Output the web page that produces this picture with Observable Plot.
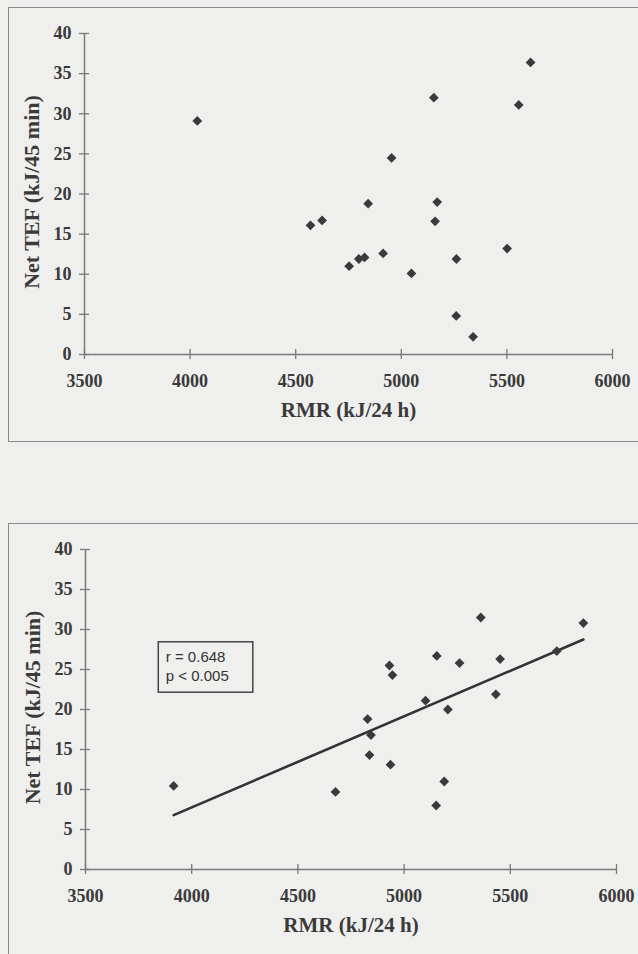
<!DOCTYPE html>
<html>
<head>
<meta charset="utf-8">
<script src="https://cdn.jsdelivr.net/npm/d3@7"></script>
<script src="https://cdn.jsdelivr.net/npm/@observablehq/plot@0.6"></script>
<style>
  body { margin: 0; background: #efefed; }
  #wrap { position: relative; width: 638px; height: 954px; background: #efefed; overflow: hidden; }
  .frame { position: absolute; border: 1.5px solid #8a8a8a; }
  #f1 { left: 8px; top: 7px; width: 700px; height: 433px; }
  #f2 { left: 8px; top: 523px; width: 700px; height: 520px; }
  .chart { position: absolute; left: 0; }
  #c1 { top: 0; }
  #c2 { top: 500px; }
</style>
</head>
<body>
<div id="wrap">
  <div class="frame" id="f1"></div>
  <div class="frame" id="f2"></div>
  <div class="chart" id="c1"></div>
  <div class="chart" id="c2"></div>
</div>
<script>
// ---- data ----
const xTicks = [3500, 4000, 4500, 5000, 5500, 6000];
const yTicks = [0, 5, 10, 15, 20, 25, 30, 35, 40];
const xTitle = "RMR (kJ/24 h)";
const yTitle = "Net TEF (kJ/45 min)";

// top panel (no correlation)
const rmrA = [4034, 4570, 4625, 4753, 4799, 4826, 4843, 4914, 4954, 5048, 5154, 5160, 5170, 5261, 5260, 5340, 5501, 5556, 5612];
const tefA = [29.1, 16.1, 16.7, 11.0, 11.9, 12.1, 18.8, 12.6, 24.5, 10.1, 32.0, 16.6, 19.0, 11.9, 4.8, 2.2, 13.2, 31.1, 36.4];

// bottom panel (with regression)
const rmrB = [3915, 4677, 4828, 4837, 4844, 4931, 4936, 4945, 5101, 5151, 5154, 5189, 5206, 5261, 5361, 5432, 5452, 5719, 5844];
const tefB = [10.45, 9.7, 18.8, 14.3, 16.8, 25.5, 13.1, 24.3, 21.1, 8.0, 26.7, 11.0, 20.0, 25.8, 31.5, 21.9, 26.3, 27.3, 30.8];

// fitted line endpoints as drawn
const fitRmr = [3915, 5844];
const fitTef = [6.8, 28.75];

// annotation
const statLines = ["r = 0.648", "p < 0.005"];
const boxRmr = [3845, 4290];
const boxTef = [22.1, 28.4];

// ---- drawing ----
const ink = "#3a3a3a";
const axisInk = "#7a7a7a";
const serif = "'Liberation Serif', 'Times New Roman', serif";

function panel(rmr, tef, m, extra) {
  const pts = rmr.map((x, i) => ({x, y: tef[i]}));
  return Plot.plot({
    width: 638,
    height: m.h,
    marginLeft: m.l, marginRight: m.r, marginTop: m.t, marginBottom: m.b,
    x: {domain: [xTicks[0], xTicks[xTicks.length - 1]]},
    y: {domain: [yTicks[0], yTicks[yTicks.length - 1]]},
    style: {background: "transparent", fontFamily: serif, fontWeight: "bold", color: ink, overflow: "visible"},
    marks: [
      Plot.ruleX([xTicks[0]], {stroke: axisInk, strokeWidth: 1.5}),
      Plot.ruleY([yTicks[0]], {stroke: axisInk, strokeWidth: 1.5}),
      Plot.ruleX(xTicks, {x: d => d, y1: yTicks[0], y2: yTicks[0], insetTop: -5, insetBottom: -5, stroke: axisInk, strokeWidth: 1.3}),
      Plot.ruleY(yTicks, {y: d => d, x1: xTicks[0], x2: xTicks[0], insetLeft: -5, insetRight: -5, stroke: axisInk, strokeWidth: 1.3}),
      Plot.axisX({ticks: xTicks, tickSize: 0, tickPadding: 20, tickFormat: d => String(d), fontSize: 18, label: null, fill: ink}),
      Plot.axisY({ticks: yTicks, tickSize: 0, tickPadding: 13, tickFormat: d => String(d), fontSize: 18, label: null, fill: ink}),
      Plot.text([xTitle], {frameAnchor: "bottom", lineAnchor: "middle", textAnchor: "middle", dy: 56, fontSize: 21, fill: ink}),
      Plot.text([yTitle], {frameAnchor: "left", lineAnchor: "middle", textAnchor: "middle", dx: -53, dy: -2, rotate: -90, fontSize: 22, fill: ink}),
      ...(extra || []),
      Plot.dot(pts, {x: "x", y: "y", symbol: "diamond2", r: 4.4, fill: ink, stroke: "none"})
    ]
  });
}

document.getElementById("c1").append(
  panel(rmrA, tefA, {h: 440, l: 84, r: 26, t: 33, b: 86})
);

const fit = fitRmr.map((x, i) => ({x, y: fitTef[i]}));
const box = [{x1: boxRmr[0], x2: boxRmr[1], y1: boxTef[0], y2: boxTef[1]}];
const stat = [{x: boxRmr[0], y: boxTef[1], t: statLines.join("\n")}];

document.getElementById("c2").append(
  panel(rmrB, tefB, {h: 454, l: 85, r: 22, t: 49, b: 85}, [
    Plot.line(fit, {x: "x", y: "y", stroke: "#333", strokeWidth: 2.6}),
    Plot.rect(box, {x1: "x1", x2: "x2", y1: "y1", y2: "y2", fill: "none", stroke: "#444", strokeWidth: 1.5}),
    Plot.text(stat, {x: "x", y: "y", text: "t", textAnchor: "start", lineAnchor: "top", dx: 7, dy: 6, lineHeight: 1.27,
      fontSize: 15, fontWeight: "normal", fontFamily: "'Liberation Sans', Arial, sans-serif", fill: "#333", letterSpacing: "-0.4px"})
  ])
);
</script>
</body>
</html>
